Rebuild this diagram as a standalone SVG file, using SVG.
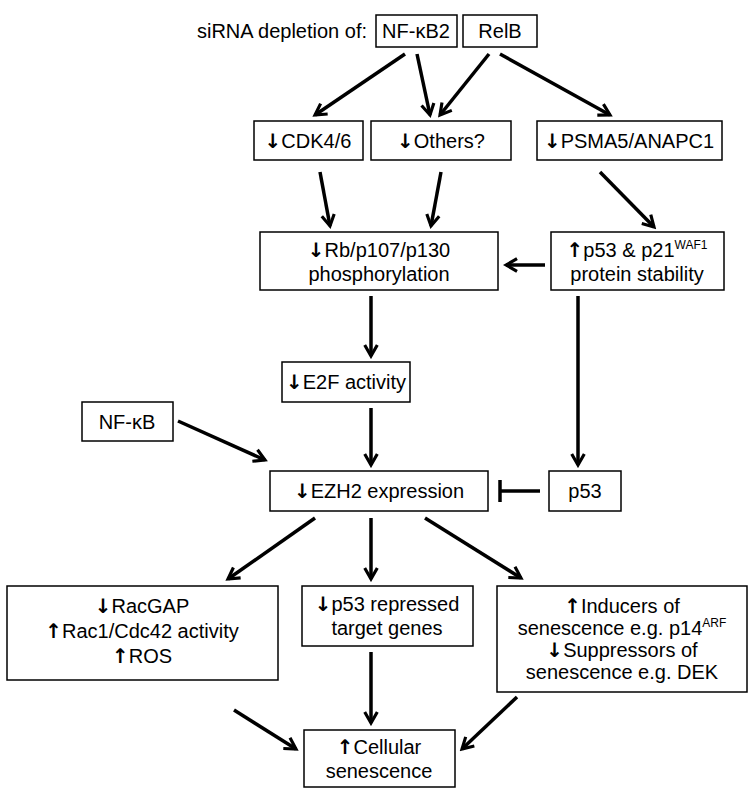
<svg xmlns="http://www.w3.org/2000/svg" width="753" height="800" viewBox="0 0 753 800">
<style>
.b{fill:#fff;stroke:#000;stroke-width:1.5}
text{font-family:"Liberation Sans",Arial,sans-serif;font-size:20px;fill:#000;text-anchor:middle}
.ar{font-family:"DejaVu Sans",sans-serif;font-weight:bold;font-size:20px;fill:#000}
.sup{font-size:12px}
.c{stroke:#000;stroke-width:3.5;fill:none}
</style>
<defs>
<marker id="a" viewBox="0 0 10 10" refX="8" refY="5" markerWidth="4.5" markerHeight="4.5" orient="auto" markerUnits="strokeWidth">
<polyline points="1,1 8,5 1,9" fill="none" stroke="#000" stroke-width="2"/>
</marker>
</defs>
<text x="282" y="38">siRNA depletion of:</text>
<g id="nfkb2"><rect class="b" x="376" y="15" width="81" height="32"/><text x="416" y="38">NF-κB2</text></g>
<g id="relb"><rect class="b" x="463" y="15" width="74" height="32"/><text x="500" y="38">RelB</text></g>
<g id="cdk"><rect class="b" x="254" y="121" width="109" height="39"/><text x="308" y="148"><tspan class="ar">↓</tspan>CDK4/6</text></g>
<g id="others"><rect class="b" x="371" y="121" width="140" height="39"/><text x="441" y="148"><tspan class="ar">↓</tspan>Others?</text></g>
<g id="psma"><rect class="b" x="537" y="121" width="185" height="39"/><text x="629" y="148"><tspan class="ar">↓</tspan>PSMA5/ANAPC1</text></g>
<g id="rb"><rect class="b" x="260" y="232" width="238" height="58"/><text x="379" y="257"><tspan class="ar">↓</tspan>Rb/p107/p130</text><text x="379" y="281">phosphorylation</text></g>
<g id="p53p21"><rect class="b" x="551" y="232" width="173" height="58"/><text x="637" y="257"><tspan class="ar">↑</tspan>p53 &amp; p21<tspan class="sup" dy="-8">WAF1</tspan></text><text x="637" y="281">protein stability</text></g>
<g id="e2f"><rect class="b" x="282" y="362" width="128" height="40"/><text x="346" y="389"><tspan class="ar">↓</tspan>E2F activity</text></g>
<g id="nfkb"><rect class="b" x="82" y="402" width="91" height="39"/><text x="127" y="429">NF-κB</text></g>
<g id="ezh2"><rect class="b" x="270" y="471" width="218" height="40"/><text x="379" y="498"><tspan class="ar">↓</tspan>EZH2 expression</text></g>
<g id="p53"><rect class="b" x="549" y="471" width="72" height="40"/><text x="585" y="498">p53</text></g>
<g id="racgap"><rect class="b" x="7" y="586" width="271" height="94"/><text x="142" y="613"><tspan class="ar">↓</tspan>RacGAP</text><text x="142" y="638"><tspan class="ar">↑</tspan>Rac1/Cdc42 activity</text><text x="142" y="663"><tspan class="ar">↑</tspan>ROS</text></g>
<g id="p53rep"><rect class="b" x="302" y="586" width="171" height="60"/><text x="387" y="611"><tspan class="ar">↓</tspan>p53 repressed</text><text x="387" y="635">target genes</text></g>
<g id="inducers"><rect class="b" x="497" y="586" width="250" height="106"/><text x="622" y="613"><tspan class="ar">↑</tspan>Inducers of</text><text x="622" y="635">senescence e.g. p14<tspan class="sup" dy="-8">ARF</tspan></text><text x="622" y="657"><tspan class="ar">↓</tspan>Suppressors of</text><text x="622" y="679">senescence e.g. DEK</text></g>
<g id="sen"><rect class="b" x="304" y="730" width="151" height="57"/><text x="379" y="754"><tspan class="ar">↑</tspan>Cellular</text><text x="379" y="778">senescence</text></g>
<g id="connectors">
<line class="c" x1="405" y1="54" x2="315" y2="115" marker-end="url(#a)"/>
<line class="c" x1="417" y1="54" x2="430" y2="115" marker-end="url(#a)"/>
<line class="c" x1="489" y1="54" x2="440" y2="115" marker-end="url(#a)"/>
<line class="c" x1="500" y1="54" x2="610" y2="115" marker-end="url(#a)"/>
<line class="c" x1="320" y1="172" x2="330" y2="226" marker-end="url(#a)"/>
<line class="c" x1="441" y1="172" x2="431" y2="226" marker-end="url(#a)"/>
<line class="c" x1="600" y1="172" x2="654" y2="227" marker-end="url(#a)"/>
<line class="c" x1="545" y1="265" x2="506" y2="265" marker-end="url(#a)"/>
<line class="c" x1="371" y1="296" x2="371" y2="356" marker-end="url(#a)"/>
<line class="c" x1="578" y1="296" x2="578" y2="465" marker-end="url(#a)"/>
<line class="c" x1="371" y1="408" x2="371" y2="465" marker-end="url(#a)"/>
<line class="c" x1="178" y1="421" x2="265" y2="460" marker-end="url(#a)"/>
<line class="c" x1="540" y1="491" x2="500" y2="491"/>
<line class="c" x1="500" y1="480" x2="500" y2="502"/>
<line class="c" x1="315" y1="518" x2="228" y2="579" marker-end="url(#a)"/>
<line class="c" x1="371" y1="518" x2="371" y2="579" marker-end="url(#a)"/>
<line class="c" x1="425" y1="518" x2="521" y2="578" marker-end="url(#a)"/>
<line class="c" x1="234" y1="710" x2="296" y2="749" marker-end="url(#a)"/>
<line class="c" x1="371" y1="652" x2="371" y2="723" marker-end="url(#a)"/>
<line class="c" x1="517" y1="697" x2="462" y2="749" marker-end="url(#a)"/>
</g>
</svg>
